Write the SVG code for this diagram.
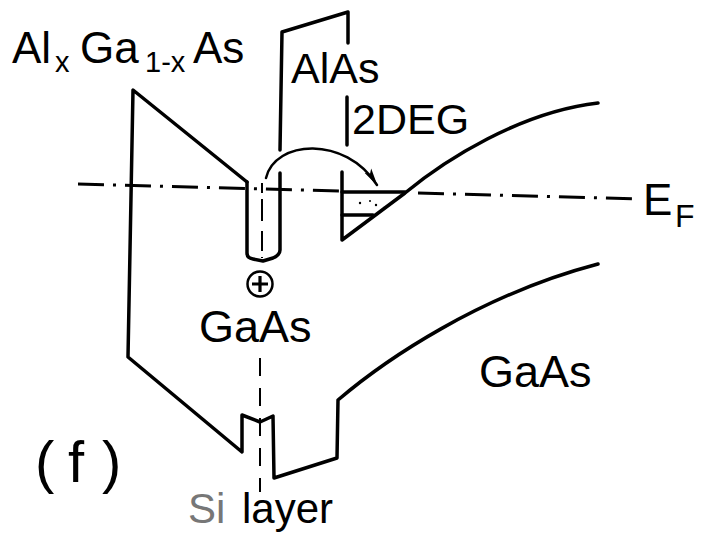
<svg xmlns="http://www.w3.org/2000/svg" width="712" height="537" viewBox="0 0 712 537">
<defs>
<style>
.ln{fill:none;stroke:#000;stroke-width:3.5;stroke-linejoin:round;stroke-linecap:round}
.th{fill:none;stroke:#000;stroke-width:2.5;stroke-linecap:round}
.ef{fill:none;stroke:#000;stroke-width:3;stroke-dasharray:26 9 3 9}
.vd{fill:none;stroke:#000;stroke-width:2;stroke-dasharray:18 12}
.t{font-family:"Liberation Sans",Arial,sans-serif;fill:#000}
</style>
<marker id="ah" markerWidth="18" markerHeight="10" refX="17" refY="5" orient="auto" markerUnits="userSpaceOnUse">
<path d="M0,1 L18,5 L0,9 L4,5 Z" fill="#000"/>
</marker>
</defs>
<rect width="712" height="537" fill="#fff"/>
<g id="bands">
<path class="ln" d="M247,182 L133,90 L128,357 L242,452 L242,415 L260,422 L273,416 L274,478 L337,458 L338,400 C385,360 480,295 598,264"/>
<path class="ln" d="M247,182 L247,253 Q247,258 253,259 L263,261 L273,258 Q280,255 280,250 L280,173"/>
<path class="ln" d="M280,150 L282,32 L348,12 L348,43"/>
<path class="ln" d="M347,97 L347,145"/>
<path class="ln" d="M342,172 L342,240 L405,193 C445,160 520,112 598,103"/>
</g>
<g id="twodeg">
<path class="ln" d="M342,192 L405,192"/>
<path class="ln" d="M342,215 L373,215"/>
<g fill="#000"><circle cx="360" cy="203" r="1.2"/><circle cx="376" cy="205" r="1.2"/><circle cx="384" cy="208" r="1.2"/><circle cx="370" cy="201" r="1"/></g>
</g>
<g id="fermi">
<path class="ef" d="M78,184 L342,191"/>
<path class="ef" d="M418,193 L640,199"/>
</g>
<g id="silayer">
<path class="vd" d="M262,183 L262,258" style="stroke-dasharray:10 6 22 10 20 6"/>
<path class="vd" d="M260,358 L260,492"/>
<circle cx="260" cy="284" r="12.5" fill="none" stroke="#000" stroke-width="2.5"/>
<path d="M252,284 L268,284 M260,276 L260,292" stroke="#000" stroke-width="3.2"/>
</g>
<g id="connectors">
<path class="th" d="M266,178 C275,140 345,135 377,185" marker-end="url(#ah)"/>
</g>
<g id="labels">
<text class="t" y="63" font-size="44"><tspan x="12">Al</tspan><tspan x="55" y="72" font-size="29">x</tspan><tspan x="80" y="63">Ga</tspan><tspan x="145" y="72" font-size="29">1-x</tspan><tspan x="193" y="63">As</tspan></text>
<text class="t" x="291" y="83" font-size="43">AlAs</text>
<text class="t" x="352" y="134" font-size="43">2DEG</text>
<text class="t" x="643" y="215" font-size="44">E</text>
<text class="t" x="675" y="227" font-size="32">F</text>
<text class="t" x="199" y="342" font-size="45">GaAs</text>
<text class="t" x="479" y="387" font-size="45">GaAs</text>
<text class="t" y="482" font-size="58"><tspan x="35">(</tspan><tspan x="68">f</tspan><tspan x="102">)</tspan></text>
<text class="t" y="523" font-size="42"><tspan x="188" fill="#777">Si</tspan><tspan x="242">layer</tspan></text>
</g>
</svg>
